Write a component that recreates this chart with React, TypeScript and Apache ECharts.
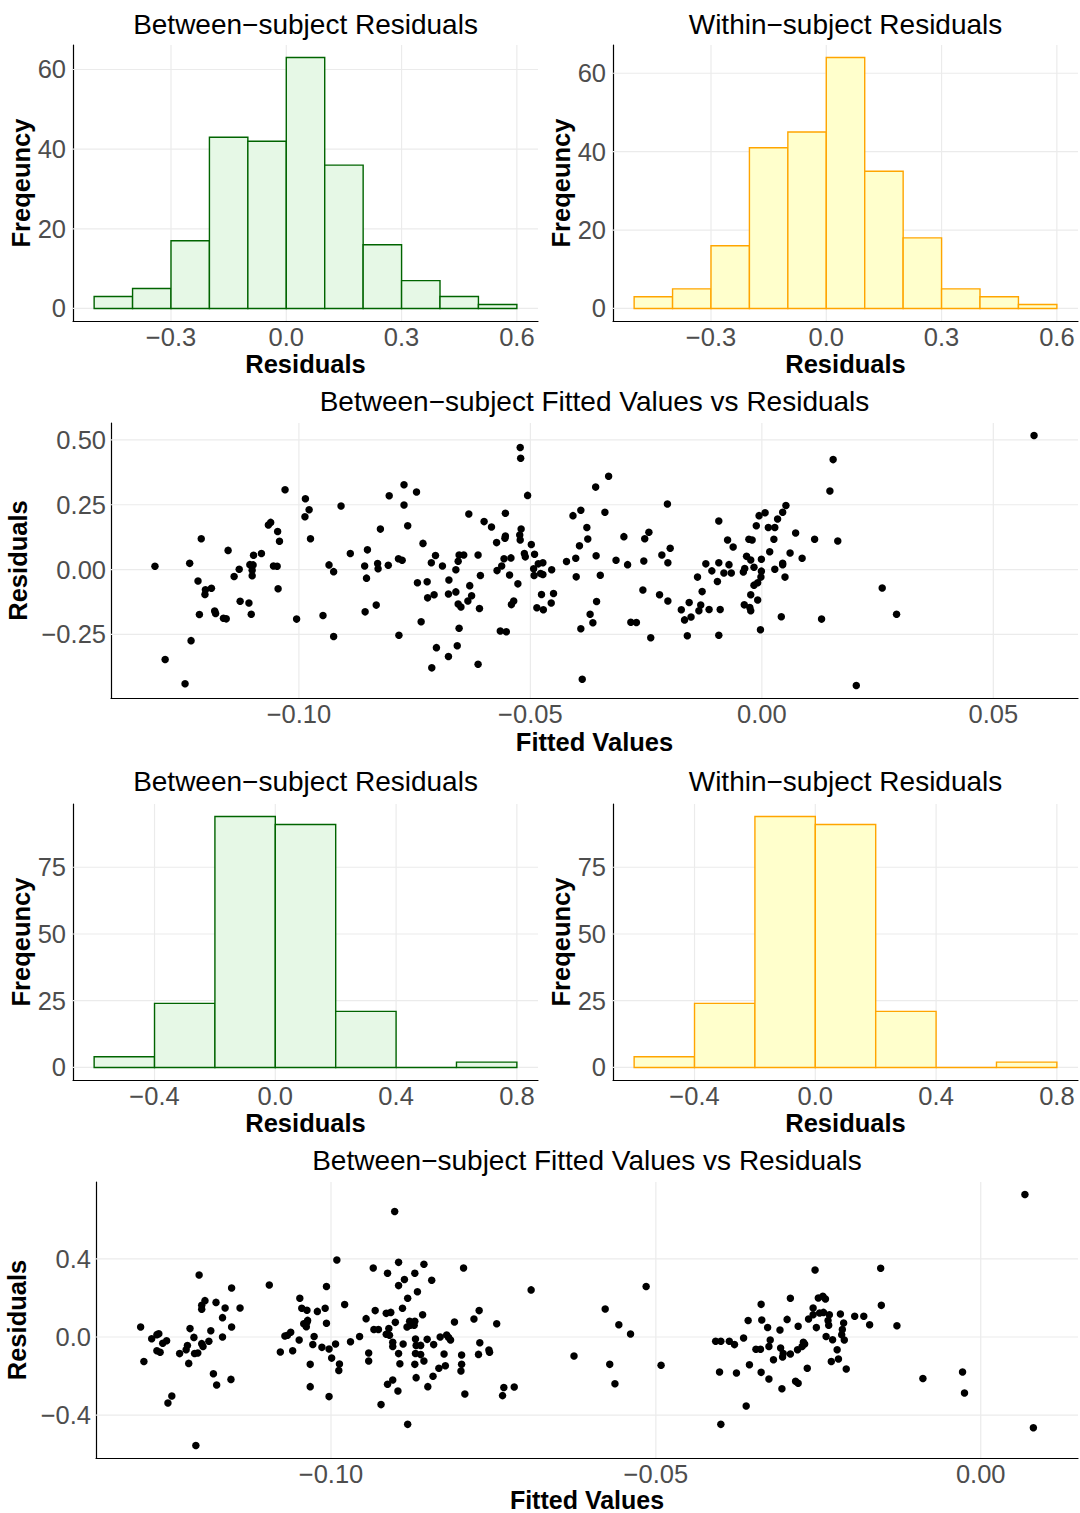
import React, { useEffect, useRef } from "react";
import * as echarts from "echarts";

// ---------------- Histogram data ----------------
const breaksTop = [-0.5, -0.4, -0.3, -0.2, -0.1, 0.0, 0.1, 0.2, 0.3, 0.4, 0.5, 0.6];
const countsBetweenTop = [3, 5, 17, 43, 42, 63, 36, 16, 7, 3, 1];
const countsWithinTop = [3, 5, 16, 41, 45, 64, 35, 18, 5, 3, 1];

const breaksBottom = [-0.6, -0.4, -0.2, 0.0, 0.2, 0.4, 0.6, 0.8];
const countsBetweenBottom = [4, 24, 94, 91, 21, 0, 2];
const countsWithinBottom = [4, 24, 94, 91, 21, 0, 2];

// ---------------- Tick values ----------------
const histTopXTicks = [-0.3, 0, 0.3, 0.6];
const histTopYTicks = [0, 20, 40, 60];
const histBottomXTicks = [-0.4, 0, 0.4, 0.8];
const histBottomYTicks = [0, 25, 50, 75];
const scatter1XTicks = [-0.1, -0.05, 0, 0.05];
const scatter1YTicks = [-0.25, 0, 0.25, 0.5];
const scatter2XTicks = [-0.1, -0.05, 0];
const scatter2YTicks = [-0.4, 0, 0.4];

// ---------------- Titles ----------------
const titleBetween = "Between\u2212subject Residuals";
const titleWithin = "Within\u2212subject Residuals";
const titleScatter = "Between\u2212subject Fitted Values vs Residuals";

// ---------------- Scatter data: [fitted, residual] ----------------
const fittedVsResid1: number[][] = [
  [-0.1311, 0.013], [-0.1289, -0.347], [-0.1246, -0.44], [-0.1236, 0.024], [-0.1233, -0.274],
  [-0.1218, -0.044], [-0.1215, -0.173], [-0.1211, 0.119], [-0.1202, -0.078], [-0.1203, -0.096],
  [-0.1189, -0.072], [-0.1182, -0.16], [-0.118, -0.169], [-0.1163, -0.188], [-0.1157, -0.19],
  [-0.1153, 0.074], [-0.114, -0.027], [-0.1129, 0.001], [-0.1127, -0.122], [-0.1108, -0.129],
  [-0.1103, -0.172], [-0.1106, 0.019], [-0.1099, 0.018], [-0.1101, -0.003], [-0.1101, -0.024],
  [-0.1098, 0.055], [-0.1081, 0.062], [-0.1066, 0.172], [-0.1061, 0.182], [-0.1046, 0.147],
  [-0.1042, 0.109], [-0.1055, 0.014], [-0.1047, 0.013], [-0.1045, -0.074], [-0.103, 0.308],
  [-0.1005, -0.191], [-0.0986, 0.273], [-0.0978, 0.231], [-0.0987, 0.204], [-0.0975, 0.119],
  [-0.0948, -0.177], [-0.0935, 0.018], [-0.0925, -0.008], [-0.0925, -0.258], [-0.0909, 0.245],
  [-0.0889, 0.062],
  [-0.0852, 0.076], [-0.0858, 0.014], [-0.0854, -0.033], [-0.0857, -0.163], [-0.0833, -0.137],
  [-0.083, 0.023], [-0.0829, 0.003], [-0.0824, 0.156], [-0.0807, 0.017], [-0.0805, 0.285],
  [-0.0784, -0.253], [-0.0785, 0.042], [-0.0777, 0.036], [-0.0773, 0.327], [-0.0773, 0.249],
  [-0.0765, 0.169], [-0.0746, 0.299], [-0.0744, -0.051], [-0.0736, -0.201], [-0.0732, 0.101],
  [-0.0723, -0.047], [-0.0722, -0.109], [-0.0713, -0.379], [-0.0714, 0.026], [-0.0705, 0.054],
  [-0.0708, -0.097], [-0.0703, -0.301], [-0.069, 0.014], [-0.0677, -0.335], [-0.0677, -0.094],
  [-0.0676, -0.04], [-0.0661, -0.001], [-0.0661, -0.086], [-0.0658, -0.294], [-0.0656, -0.133],
  [-0.065, -0.144], [-0.0654, -0.226], [-0.0656, 0.032], [-0.0654, 0.056], [-0.0644, 0.056],
  [-0.0633, 0.214], [-0.0631, -0.062], [-0.0627, -0.101], [-0.0635, -0.121], [-0.0613, 0.056],
  [-0.0613, -0.365], [-0.061, -0.15], [-0.0608, -0.023], [-0.06, 0.185], [-0.0584, 0.164],
  [-0.0573, 0.104], [-0.0572, -0.004], [-0.0562, 0.014], [-0.0565, -0.237], [-0.0552, -0.24],
  [-0.0557, 0.042], [-0.0554, 0.217], [-0.0555, 0.121], [-0.0554, 0.129], [-0.0545, -0.021],
  [-0.0542, 0.045], [-0.0541, -0.135], [-0.0536, -0.121], [-0.0527, -0.055], [-0.0522, 0.471],
  [-0.0521, 0.429], [-0.052, 0.156], [-0.0523, 0.133], [-0.0522, 0.114], [-0.0506, 0.286],
  [-0.0513, 0.062], [-0.0511, 0.049], [-0.0498, 0.097], [-0.0493, 0.003], [-0.0492, -0.023],
  [-0.0491, 0.059], [-0.0483, 0.022], [-0.0473, 0.026], [-0.0478, -0.015], [-0.0473, -0.019],
  [-0.0476, -0.096], [-0.0486, -0.147], [-0.0472, -0.155], [-0.0455, -0.129], [-0.0454, -0.001],
  [-0.045, -0.092], [-0.0422, 0.031], [-0.0408, 0.208], [-0.0402, 0.044], [-0.0401, -0.028],
  [-0.0391, 0.229], [-0.0394, 0.092], [-0.0391, -0.228], [-0.0388, -0.423], [-0.0378, 0.162],
  [-0.0376, 0.118], [-0.0371, -0.172], [-0.0365, -0.205], [-0.0359, 0.318], [-0.0358, 0.053],
  [-0.0357, -0.123], [-0.0349, -0.022], [-0.0339, 0.221], [-0.0331, 0.36],
  [-0.0315, 0.036], [-0.0298, 0.127], [-0.029, 0.019], [-0.0283, -0.203], [-0.0271, -0.204],
  [-0.0257, -0.079], [-0.0255, 0.033], [-0.0253, 0.119], [-0.0244, 0.144], [-0.024, -0.263],
  [-0.0221, -0.097], [-0.0216, 0.056], [-0.0204, 0.253], [-0.0203, 0.026], [-0.0198, 0.082],
  [-0.0203, -0.121], [-0.0174, -0.155], [-0.0167, -0.194], [-0.0161, -0.255], [-0.0157, -0.127],
  [-0.0153, -0.183], [-0.0139, -0.029], [-0.0136, -0.159], [-0.0132, -0.137], [-0.0129, -0.085],
  [-0.0121, 0.022], [-0.0114, -0.154], [-0.0108, -0.005], [-0.0096, -0.046], [-0.0093, 0.187],
  [-0.0093, 0.026], [-0.009, -0.154], [-0.0093, -0.253], [-0.0082, -0.013], [-0.0074, 0.114],
  [-0.0071, 0.019], [-0.0066, -0.013], [-0.0062, 0.087], [-0.004, -0.009], [-0.0037, 0.004],
  [-0.0038, -0.136], [-0.0033, 0.051], [-0.0028, 0.117], [-0.0021, 0.114], [-0.0024, 0.037],
  [-0.0026, -0.146], [-0.0024, -0.159], [-0.0024, -0.097], [-0.0017, 0.009], [-0.0012, 0.169],
  [-0.0006, 0.208], [0.0007, 0.219], [-0.0017, -0.06], [-0.0009, -0.051], [-0.0009, -0.117],
  [-0.0003, -0.232], [-0.0002, -0.029], [-0.0001, -0.006], [-0.0001, 0.04], [0.0017, 0.069],
  [0.0014, 0.162], [0.0028, 0.162], [0.0026, 0.117], [0.0028, 0.001], [0.0034, 0.195],
  [0.0045, 0.221], [0.0052, 0.247], [0.0045, 0.019], [0.0045, 0.024], [0.005, -0.029],
  [0.0042, -0.182], [0.0061, 0.064], [0.0073, 0.141], [0.0087, 0.044], [0.0114, 0.117],
  [0.0129, -0.191], [0.0147, 0.303], [0.0154, 0.424], [0.0164, 0.11], [0.0204, -0.447],
  [0.026, -0.071], [0.0291, -0.172], [0.0588, 0.517],
];

const fittedVsResid2: number[][] = [
  [-0.1293, 0.051], [-0.1288, -0.125], [-0.1276, -0.009], [-0.1268, 0.012], [-0.1265, 0.017],
  [-0.1268, -0.07], [-0.1263, -0.078], [-0.1259, -0.032], [-0.1253, -0.019], [-0.1251, -0.338],
  [-0.1245, -0.302], [-0.1233, -0.085], [-0.1223, -0.065], [-0.1221, -0.044], [-0.1219, -0.135],
  [-0.1217, 0.043], [-0.1211, -0.002], [-0.121, -0.084], [-0.1205, -0.082], [-0.1208, -0.555],
  [-0.1203, 0.317], [-0.1199, -0.034], [-0.1197, -0.048], [-0.1199, 0.162], [-0.1194, 0.186],
  [-0.1199, 0.142], [-0.1188, -0.022], [-0.1185, 0.032], [-0.1181, -0.188], [-0.1177, 0.177],
  [-0.1176, -0.246], [-0.1167, 0.099], [-0.1167, 0.0], [-0.1163, 0.148], [-0.1154, -0.217],
  [-0.1153, 0.051], [-0.1153, 0.251], [-0.114, 0.148], [-0.1095, 0.266], [-0.1078, -0.077],
  [-0.1071, 0.005], [-0.1067, 0.009], [-0.1062, 0.024], [-0.1059, -0.07], [-0.1049, -0.015],
  [-0.1048, 0.198], [-0.1045, 0.147], [-0.1037, 0.137], [-0.1042, 0.068], [-0.1037, 0.075],
  [-0.1038, 0.053], [-0.1036, 0.085], [-0.1032, -0.14], [-0.1032, -0.254], [-0.1026, 0.003],
  [-0.1028, -0.038], [-0.1021, 0.131], [-0.1014, -0.053], [-0.1009, 0.147], [-0.1007, 0.07],
  [-0.1007, 0.258], [-0.1003, -0.061], [-0.1003, -0.305], [-0.0999, -0.108], [-0.0993, -0.036],
  [-0.0991, 0.394], [-0.0987, -0.138], [-0.0988, -0.171], [-0.0979, 0.166], [-0.097, -0.024],
  [-0.0956, 0.003], [-0.0946, 0.094], [-0.0942, -0.082], [-0.0942, -0.123], [-0.0935, 0.353],
  [-0.0932, 0.135], [-0.0934, 0.038], [-0.0927, 0.038], [-0.0923, -0.346], [-0.0915, 0.121],
  [-0.0908, 0.126], [-0.0913, 0.326], [-0.0915, 0.014], [-0.091, 0.009], [-0.0911, 0.043],
  [-0.0913, -0.242], [-0.0905, -0.22], [-0.0902, 0.642], [-0.0905, -0.027], [-0.0905, -0.048],
  [-0.0901, 0.075], [-0.0896, 0.382], [-0.0896, 0.263], [-0.0896, -0.085], [-0.0894, -0.137],
  [-0.0897, -0.276], [-0.089, 0.147], [-0.0889, -0.036], [-0.0887, 0.294], [-0.0882, 0.198],
  [-0.0883, 0.051], [-0.0879, 0.08], [-0.0878, 0.06], [-0.0871, 0.08], [-0.0872, 0.06],
  [-0.0882, -0.447], [-0.0871, 0.326], [-0.0867, 0.232], [-0.087, -0.01], [-0.0869, -0.043],
  [-0.0862, -0.043], [-0.087, -0.084], [-0.0862, -0.09], [-0.0871, -0.14], [-0.0869, -0.208],
  [-0.0859, 0.114], [-0.0857, 0.372], [-0.0857, -0.123], [-0.0852, -0.012], [-0.0851, -0.254],
  [-0.0845, 0.29], [-0.0842, -0.039], [-0.0843, -0.201], [-0.0834, -0.16], [-0.0832, 0.0],
  [-0.0826, -0.087], [-0.0824, -0.147], [-0.0822, 0.01], [-0.0819, -0.003], [-0.0816, -0.015],
  [-0.081, 0.077], [-0.0799, -0.092], [-0.0799, -0.14], [-0.08, -0.174], [-0.0796, 0.353],
  [-0.0794, -0.292], [-0.078, 0.092], [-0.0772, 0.135], [-0.0771, -0.029], [-0.0773, -0.089],
  [-0.0757, -0.067], [-0.0756, -0.078], [-0.0745, 0.068], [-0.0736, -0.3], [-0.0734, -0.258],
  [-0.0718, -0.256], [-0.0692, 0.241], [-0.0626, -0.097],
  [-0.0578, 0.143], [-0.0571, -0.14], [-0.0563, -0.239], [-0.0557, 0.063], [-0.0539, 0.015],
  [-0.0515, 0.258], [-0.0492, -0.145], [-0.0408, -0.022], [-0.04, -0.022], [-0.0402, -0.179],
  [-0.04, -0.447], [-0.0387, -0.022], [-0.0379, -0.039], [-0.0376, -0.184], [-0.0365, -0.005],
  [-0.0361, -0.353], [-0.0358, 0.084], [-0.0356, -0.142], [-0.0346, -0.063], [-0.0339, -0.063],
  [-0.0338, 0.167], [-0.0337, 0.087], [-0.0338, -0.181], [-0.0328, 0.049], [-0.0326, -0.215],
  [-0.0324, -0.015], [-0.0326, -0.048], [-0.0319, -0.116], [-0.0309, 0.036], [-0.0308, -0.056],
  [-0.0305, -0.102], [-0.0304, -0.085], [-0.0306, -0.265], [-0.0298, 0.09], [-0.0293, -0.087],
  [-0.0293, 0.198], [-0.0285, -0.227], [-0.0281, -0.237], [-0.0281, 0.055], [-0.0282, -0.065],
  [-0.0275, -0.048], [-0.0271, -0.036], [-0.0273, -0.027], [-0.0267, -0.16], [-0.0265, 0.092],
  [-0.0258, 0.148], [-0.0258, 0.114], [-0.0255, 0.343], [-0.0253, 0.048], [-0.025, 0.2],
  [-0.0243, 0.208], [-0.0239, 0.195], [-0.0248, 0.123], [-0.0242, 0.126], [-0.0233, 0.114],
  [-0.0216, 0.118], [-0.0238, 0.003], [-0.0235, 0.084], [-0.0234, 0.06], [-0.023, -0.125],
  [-0.0228, -0.014], [-0.0221, -0.065], [-0.0219, -0.113], [-0.0214, 0.012], [-0.0211, 0.072],
  [-0.0213, 0.038], [-0.021, -0.015], [-0.0207, -0.164],
  [-0.0194, 0.106], [-0.018, 0.106], [-0.0171, 0.063], [-0.0154, 0.352], [-0.0153, 0.162],
  [-0.0129, 0.058], [-0.0089, -0.212], [-0.0028, -0.179], [-0.0025, -0.287], [0.0068, 0.729],
  [0.0081, -0.464],
];

// ---------------- helpers ----------------
const FONT = '"Liberation Sans", Arial, Helvetica, sans-serif';
const GRID_COLOR = "#ebebeb";
const TICK_FONT = 25.5;
const AXIS_TITLE_FONT = 25.5;
const TITLE_FONT = 28;

function fmt(v: number, dec: number): string {
  const s = Math.abs(v).toFixed(dec);
  return v < -1e-9 ? "\u2212" + s : s;
}

function expand(lo: number, hi: number, m = 0.05): number[] {
  const d = (hi - lo) * m;
  return [lo - d, hi + d];
}

function histRows(breaks: number[], counts: number[]): number[][] {
  return counts.map((c, i) => [breaks[i], breaks[i + 1], c]);
}

function extentOf(data: number[][], k: number): number[] {
  let lo = Infinity;
  let hi = -Infinity;
  data.forEach((d) => {
    lo = Math.min(lo, d[k]);
    hi = Math.max(hi, d[k]);
  });
  return [lo, hi];
}

function axisCfg(idx: number, range: number[], ticks: number[], dec: number, name: string, nameGap: number, margin: number, nameSize = AXIS_TITLE_FONT) {
  return {
    type: "value",
    gridIndex: idx,
    min: range[0],
    max: range[1],
    name,
    nameLocation: "middle",
    nameGap,
    nameTextStyle: { fontFamily: FONT, fontSize: nameSize, fontWeight: "bold", color: "#000", lineHeight: nameSize },
    axisLine: { show: true, onZero: false, lineStyle: { color: "#000", width: 1.2 } },
    axisTick: { show: false },
    axisLabel: {
      customValues: ticks,
      formatter: (v: number) => fmt(v, dec),
      fontFamily: FONT,
      fontSize: TICK_FONT,
      color: "#4d4d4d",
      margin,
    },
    splitLine: { show: false },
  };
}

// major grid lines drawn through the axes' own scales
function gridLineSeries(idx: number, values: number[], dir: "v" | "h") {
  return {
    type: "custom",
    xAxisIndex: idx,
    yAxisIndex: idx,
    data: values.map((v) => [v]),
    encode: dir === "v" ? { x: 0 } : { y: 0 },
    silent: true,
    clip: false,
    z: 1,
    renderItem: (params: any, api: any) => {
      const cs = params.coordSys;
      const v = api.value(0);
      if (dir === "v") {
        const px = api.coord([v, 0])[0];
        return {
          type: "line",
          shape: { x1: px, y1: cs.y, x2: px, y2: cs.y + cs.height },
          style: { stroke: GRID_COLOR, lineWidth: 1.2 },
        };
      }
      const py = api.coord([0, v])[1];
      return {
        type: "line",
        shape: { x1: cs.x, y1: py, x2: cs.x + cs.width, y2: py },
        style: { stroke: GRID_COLOR, lineWidth: 1.2 },
      };
    },
  };
}

function histSeries(idx: number, rows: number[][], fill: string, stroke: string) {
  return {
    type: "custom",
    xAxisIndex: idx,
    yAxisIndex: idx,
    data: rows,
    encode: { x: [0, 1], y: 2 },
    clip: false,
    silent: true,
    z: 3,
    renderItem: (_params: any, api: any) => {
      const a = api.coord([api.value(0), api.value(2)]);
      const b = api.coord([api.value(1), 0]);
      return {
        type: "rect",
        shape: { x: a[0], y: a[1], width: b[0] - a[0], height: b[1] - a[1] },
        style: { fill, stroke, lineWidth: 1.4 },
      };
    },
  };
}

function scatterSeries(idx: number, data: number[][]) {
  return {
    type: "scatter",
    xAxisIndex: idx,
    yAxisIndex: idx,
    data,
    symbol: "circle",
    symbolSize: 7.5,
    itemStyle: { color: "#000", opacity: 1 },
    silent: true,
    z: 3,
  };
}

function titleText(text: string, x: number, y: number) {
  return {
    type: "text",
    x,
    y,
    silent: true,
    style: {
      text,
      fontFamily: FONT,
      fontSize: TITLE_FONT,
      fill: "#000",
      align: "center",
      verticalAlign: "middle",
    },
  };
}

export default function App() {
  const ref = useRef<HTMLDivElement>(null);

  useEffect(() => {
    if (!ref.current) return;
    const chart = echarts.init(ref.current, undefined, { renderer: "svg" });

    const topX = expand(breaksTop[0], breaksTop[breaksTop.length - 1]);
    const topYBetween = expand(0, Math.max(...countsBetweenTop));
    const topYWithin = expand(0, Math.max(...countsWithinTop));
    const botX = expand(breaksBottom[0], breaksBottom[breaksBottom.length - 1]);
    const botYBetween = expand(0, Math.max(...countsBetweenBottom));
    const botYWithin = expand(0, Math.max(...countsWithinBottom));

    const ex1 = extentOf(fittedVsResid1, 0);
    const ey1 = extentOf(fittedVsResid1, 1);
    const ex2 = extentOf(fittedVsResid2, 0);
    const ey2 = extentOf(fittedVsResid2, 1);
    const s1X = expand(ex1[0], ex1[1]);
    const s1Y = expand(ey1[0], ey1[1]);
    const s2X = expand(ex2[0], ex2[1]);
    const s2Y = expand(ey2[0], ey2[1]);

    const greenFill = "#e6f8e6";
    const greenStroke = "#006400";
    const yellowFill = "#ffffcc";
    const orangeStroke = "#ffa500";

    const gridBase = { containLabel: false, outerBoundsMode: "none", show: false };

    const xTicks = [histTopXTicks, histTopXTicks, scatter1XTicks, histBottomXTicks, histBottomXTicks, scatter2XTicks];
    const yTicks = [histTopYTicks, histTopYTicks, scatter1YTicks, histBottomYTicks, histBottomYTicks, scatter2YTicks];
    const gridSeries: any[] = [];
    for (let i = 0; i < 6; i++) {
      gridSeries.push(gridLineSeries(i, xTicks[i], "v"));
      gridSeries.push(gridLineSeries(i, yTicks[i], "h"));
    }

    const option: any = {
      animation: false,
      backgroundColor: "#ffffff",
      grid: [
        { ...gridBase, left: 73, top: 45, width: 465, height: 276 },
        { ...gridBase, left: 613, top: 45, width: 465, height: 276 },
        { ...gridBase, left: 111, top: 423, width: 967, height: 275 },
        { ...gridBase, left: 73, top: 804, width: 465, height: 276 },
        { ...gridBase, left: 613, top: 804, width: 465, height: 276 },
        { ...gridBase, left: 96, top: 1182, width: 982, height: 276 },
      ],
      xAxis: [
        axisCfg(0, topX, histTopXTicks, 1, "Residuals", 29, 3),
        axisCfg(1, topX, histTopXTicks, 1, "Residuals", 29, 3),
        axisCfg(2, s1X, scatter1XTicks, 2, "Fitted Values", 31, 3),
        axisCfg(3, botX, histBottomXTicks, 1, "Residuals", 29, 3),
        axisCfg(4, botX, histBottomXTicks, 1, "Residuals", 29, 3),
        axisCfg(5, s2X, scatter2XTicks, 2, "Fitted Values", 27, 3, 25),
      ],
      yAxis: [
        axisCfg(0, topYBetween, histTopYTicks, 0, "Freqeuncy", 37, 7),
        axisCfg(1, topYWithin, histTopYTicks, 0, "Freqeuncy", 37, 7),
        axisCfg(2, s1Y, scatter1YTicks, 2, "Residuals", 74, 5),
        axisCfg(3, botYBetween, histBottomYTicks, 0, "Freqeuncy", 37, 7),
        axisCfg(4, botYWithin, histBottomYTicks, 0, "Freqeuncy", 37, 7),
        axisCfg(5, s2Y, scatter2YTicks, 1, "Residuals", 59, 5),
      ],
      series: [
        ...gridSeries,
        histSeries(0, histRows(breaksTop, countsBetweenTop), greenFill, greenStroke),
        histSeries(1, histRows(breaksTop, countsWithinTop), yellowFill, orangeStroke),
        scatterSeries(2, fittedVsResid1),
        histSeries(3, histRows(breaksBottom, countsBetweenBottom), greenFill, greenStroke),
        histSeries(4, histRows(breaksBottom, countsWithinBottom), yellowFill, orangeStroke),
        scatterSeries(5, fittedVsResid2),
      ],
      graphic: [
        titleText(titleBetween, 305.5, 24),
        titleText(titleWithin, 845.5, 24),
        titleText(titleScatter, 594.5, 401),
        titleText(titleBetween, 305.5, 781.5),
        titleText(titleWithin, 845.5, 781.5),
        titleText(titleScatter, 587, 1160),
      ],
    };

    chart.setOption(option);
    return () => {
      chart.dispose();
    };
  }, []);

  return (
    <div
      ref={ref}
      style={{ position: "absolute", left: 0, top: 0, width: 1080, height: 1513, background: "#fff" }}
    />
  );
}
